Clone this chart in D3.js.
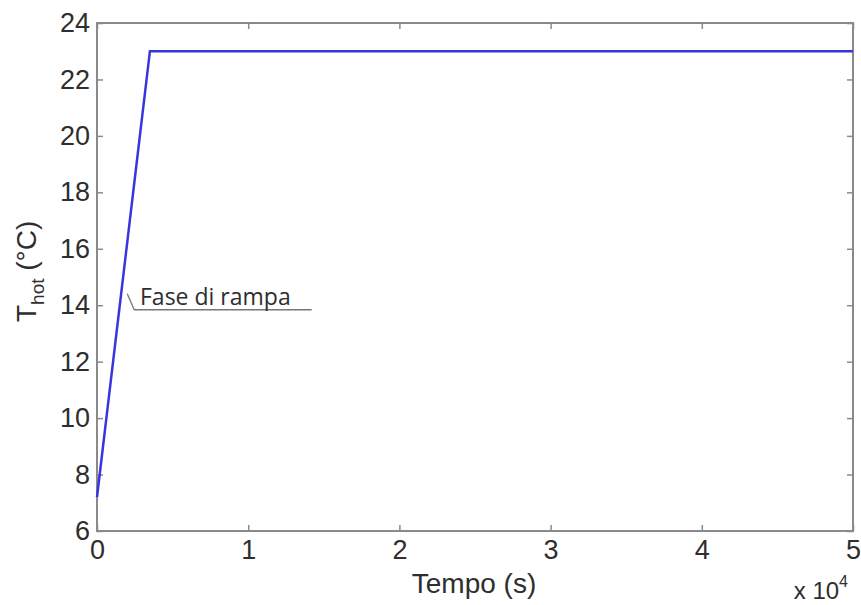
<!DOCTYPE html>
<html><head><meta charset="utf-8">
<script src="https://cdn.jsdelivr.net/npm/d3@7"></script>
<style>body{margin:0;background:#fff}svg{display:block}</style>
</head><body>
<script>
const timeValues = [0, 3500, 50000];
const tempValues = [7.2, 23, 23];
const xTicks = [0, 1, 2, 3, 4, 5];
const yTicks = [6, 8, 10, 12, 14, 16, 18, 20, 22, 24];
const annotationText = "Fase di rampa";
const xLabel = "Tempo (s)";

const W = 861, H = 605;
const m = {l: 97, r: 8, t: 23, b: 74};
const svg = d3.select("body").append("svg").attr("width", W).attr("height", H);
const x = d3.scaleLinear().domain([0, 50000]).range([m.l, W - m.r]);
const y = d3.scaleLinear().domain([6, 24]).range([H - m.b, m.t]);
const font = "Liberation Sans, Arial, sans-serif";
const axisColor = "#8a8a8a";
const textColor = "#2e2e2e";

// frame
svg.append("rect").attr("x", x(0)).attr("y", y(24)).attr("width", x(50000) - x(0)).attr("height", y(6) - y(24))
  .attr("fill", "none").attr("stroke", axisColor).attr("stroke-width", 2);

const xa = d3.axisBottom(x).tickValues(xTicks.map(d => d * 1e4)).tickFormat((d, i) => xTicks[i]).tickSizeInner(-6).tickSizeOuter(0).tickPadding(9);
const gx = svg.append("g").attr("transform", `translate(0,${y(6)})`).call(xa);
const xt = d3.axisTop(x).tickValues(xTicks.map(d => d * 1e4)).tickFormat("").tickSizeInner(-6).tickSizeOuter(0);
const gxt = svg.append("g").attr("transform", `translate(0,${y(24)})`).call(xt);
const ya = d3.axisLeft(y).tickValues(yTicks).tickSizeInner(-6).tickSizeOuter(0).tickPadding(7);
const gy = svg.append("g").attr("transform", `translate(${x(0)},0)`).call(ya);
const yr = d3.axisRight(y).tickValues(yTicks).tickFormat("").tickSizeInner(-6).tickSizeOuter(0);
const gyr = svg.append("g").attr("transform", `translate(${x(50000)},0)`).call(yr);
[gx, gxt, gy, gyr].forEach(g => {
  g.select(".domain").remove();
  g.selectAll(".tick line").attr("stroke", axisColor).attr("stroke-width", 1.5);
  g.selectAll("text").attr("fill", textColor).style("font-family", font).style("font-size", "27px");
});
gx.selectAll("text").attr("dy", "0.72em");

// line
svg.append("path").datum(timeValues.map((t, i) => [t, tempValues[i]]))
  .attr("d", d3.line().x(d => x(d[0])).y(d => y(d[1])))
  .attr("fill", "none").attr("stroke", "#3636dc").attr("stroke-width", 2.5);

// annotation
const ax = x(2000), ay = y(14.3);
svg.append("path").attr("d", `M${ax},${ay - 3} L${ax + 7},${ay + 13} L${x(14200)},${ay + 13}`)
  .attr("fill", "none").attr("stroke", "#777").attr("stroke-width", 1.3);
svg.append("text").attr("x", 140).attr("y", 305).text(annotationText)
  .attr("fill", textColor).style("font-family", "Open Sans, sans-serif").style("font-size", "23px");

// labels
svg.append("text").attr("x", 474).attr("y", 593).attr("text-anchor", "middle").text(xLabel)
  .attr("fill", textColor).style("font-family", font).style("font-size", "28px");
const yl = svg.append("text").attr("transform", `translate(36,${y(15.2)}) rotate(-90)`).attr("text-anchor", "middle")
  .attr("fill", textColor).style("font-family", font).style("font-size", "28px");
yl.append("tspan").text("T");
yl.append("tspan").attr("dy", 8).style("font-size", "19px").text("hot");
yl.append("tspan").attr("dy", -8).text(" (°C)");
const ex = svg.append("text").attr("x", 848).attr("y", 599).attr("text-anchor", "end")
  .attr("fill", textColor).style("font-family", font).style("font-size", "24px");
ex.append("tspan").text("x 10");
ex.append("tspan").attr("dy", -12).style("font-size", "16px").text("4");
</script>
</body></html>
